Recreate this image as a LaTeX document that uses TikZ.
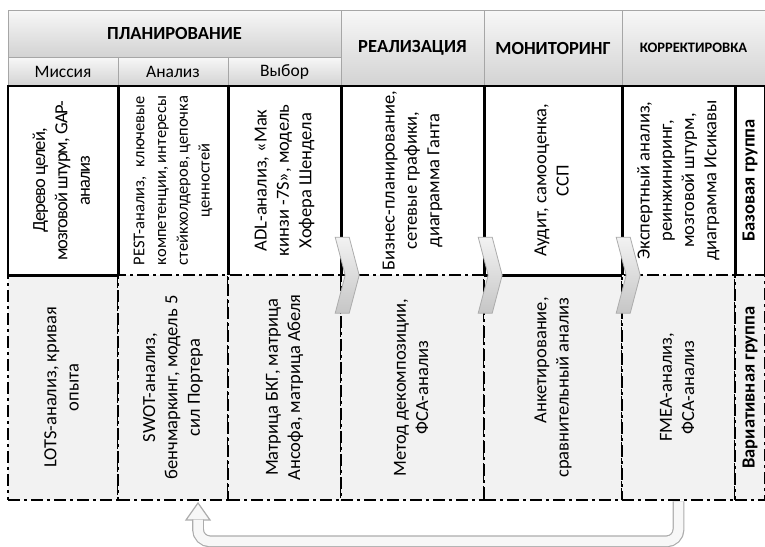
\documentclass[tikz,border=0pt]{standalone}
\usepackage{fontspec}
\usepackage{graphicx}
\setmainfont{Carlito}
\usetikzlibrary{positioning,shapes.geometric}

\newcommand{\vtext}[2][c]{\rotatebox{90}{\begin{tabular}{@{}#1@{}}#2\end{tabular}}}

\tikzset{
	hdr/.style={draw=gray!70, line width=0.8pt, top color=gray!6, bottom color=gray!35, inner sep=0pt, font=\fontsize{18.5}{22}\selectfont\bfseries},
	subhdr/.style={hdr, minimum height=29pt, font=\fontsize{17.5}{20}\selectfont},
	basecell/.style={minimum height=189pt, inner sep=0pt, font=\fontsize{18.5}{22.3}\selectfont},
	varcell/.style={draw, line width=2.8pt, dash pattern=on 12pt off 4pt on 3pt off 4pt, fill=gray!10, minimum height=225pt, inner sep=0pt, font=\fontsize{18.5}{22.3}\selectfont},
	border/.style={line width=2.6pt},
	grp/.style={font=\fontsize{18.5}{22}\selectfont\bfseries},
	chevbox/.pic={
		\draw[draw=gray!65, top color=gray!10, bottom color=gray!45, line width=0.8pt]
			(-24,-38) -- (-10,-38) -- (0,0) -- (-10,38) -- (-24,38) -- (-14,0) -- cycle;
	},
	headtri/.style={isosceles triangle, shape border rotate=90, isosceles triangle stretches, minimum width=24pt, minimum height=17pt, inner sep=0pt, draw=gray!65, fill=gray!6, line width=1.2pt, anchor=apex},
	loopline/.style={double=gray!6, double distance=9.5pt, line width=1.2pt, draw=gray!65, rounded corners=12pt, shorten >=-1pt}
}

\begin{document}
\begin{tikzpicture}[x=1pt, y=-1pt]
	\useasboundingbox (0,0) rectangle (765,546);
	\clip (0,0) rectangle (765,546);

	% header
	\node[hdr, minimum width=333pt, minimum height=47pt] (plan) at (174.5,33.5) {ПЛАНИРОВАНИЕ};
	\node[subhdr, minimum width=110pt] (mis) at (63,71.5) {Миссия};
	\node[subhdr, minimum width=110pt] (ana) at (173,71.5) {Анализ};
	\node[subhdr, minimum width=113pt] (vyb) at (284.5,71.5) {Выбор};
	\node[hdr, minimum width=143pt, minimum height=76pt] (real) at (412.5,48) {РЕАЛИЗАЦИЯ};
	\node[hdr, minimum width=138pt, minimum height=76pt] (mon) at (553,48) {МОНИТОРИНГ};
	\node[hdr, minimum width=143pt, minimum height=76pt, font=\fontsize{14.5}{16}\selectfont\bfseries] (korr) at (693.5,48) {КОРРЕКТИРОВКА};

	% base group
	\node[basecell, minimum width=110pt, font={\fontsize{18.5}{22.3}\selectfont\addfontfeature{LetterSpace=-5}}] (b1) at (63,180.5) {\vtext{Дерево целей,\\ мозговой штурм, GAP-\\ анализ}};
	\node[basecell, minimum width=110pt, font=\fontsize{16.5}{21.7}\selectfont] (b2) at (173,180.5)
		{\rotatebox{90}{\parbox{169pt}{PEST-анализ, ключевые\linebreak компетенции, интересы\linebreak стейкхолдеров, цепочка\\\makebox[\linewidth]{ценностей}}}};
	\node[basecell, minimum width=113pt] (b3) at (284.5,180.5) {\vtext{ADL-анализ, «Мак\\ кинзи -7S», модель\\ Хофера Шендела}};
	\node[basecell, minimum width=143pt] (b4) at (412.5,180.5) {\vtext{Бизнес-планирование,\\ сетевые графики,\\ диаграмма Ганта}};
	\node[basecell, minimum width=138pt] (b5) at (553,180.5) {\vtext{Аудит, самооценка,\\ ССП}};
	\node[basecell, minimum width=113pt] (b6) at (678.5,180.5) {\vtext{Экспертный анализ,\\ реинжиниринг,\\ мозговой штурм,\\ диаграмма Исикавы}};
	\node[basecell, minimum width=30pt, grp] (b7) at (750,180.5) {\rotatebox{90}{Базовая группа}};

	\foreach \c in {b1,b2,b3,b4,b5,b6,b7}
		\draw[border] (\c.south west) -- (\c.north west) -- (\c.north east) -- (\c.south east);

	% variative group
	\node[varcell, minimum width=110pt] (v1) at (63,387.5) {\vtext{LOTS-анализ, кривая\\ опыта}};
	\node[varcell, minimum width=110pt] (v2) at (173,387.5) {\vtext{SWOT-анализ,\\ бенчмаркинг, модель 5\\ сил Портера}};
	\node[varcell, minimum width=113pt] (v3) at (284.5,387.5) {\vtext{Матрица БКГ, матрица\\ Ансофа, матрица Абеля}};
	\node[varcell, minimum width=143pt] (v4) at (412.5,387.5) {\vtext{Метод декомпозиции,\\ ФСА-анализ}};
	\node[varcell, minimum width=138pt] (v5) at (553,387.5) {\vtext[r]{Анкетирование,\\ сравнительный анализ}};
	\node[varcell, minimum width=113pt] (v6) at (678.5,387.5) {\vtext{FMEA-анализ,\\ ФСА-анализ}};
	\node[varcell, minimum width=30pt, grp] (v7) at (750,387.5) {\rotatebox{90}{Вариативная группа}};

	\draw[border] (b1.south west) -- (b1.south east);
	\draw[border] (b5.south west) -- (b5.south east);

	\foreach \c in {b3,b4,b5}
		\pic at ([xshift=18pt]\c.south east) {chevbox};

	% feedback arrow
	\node[headtri] (head) at ([xshift=25pt]v2.south) {};
	\draw[loopline] (v6.south) -- ++(0,40) -| (head.lower side);

\end{tikzpicture}
\end{document}
